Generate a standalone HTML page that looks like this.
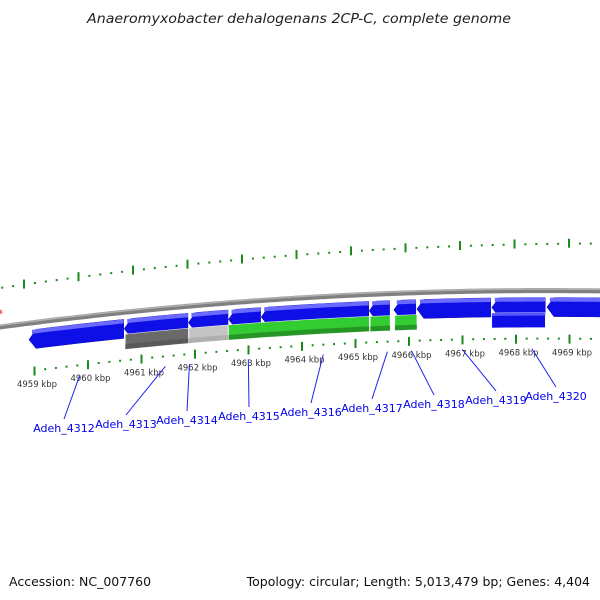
<!DOCTYPE html>
<html><head><meta charset="utf-8"><style>
html,body{margin:0;padding:0;background:#fff;}
svg{display:block;font-family:"DejaVu Sans","Liberation Sans",sans-serif;}
</style></head><body>
<svg id="map" width="600" height="600" viewBox="0 0 600 600">
<text x="299" y="23" text-anchor="middle" font-size="13" font-style="italic" fill="#222" textLength="424" lengthAdjust="spacingAndGlyphs">Anaeromyxobacter dehalogenans 2CP-C, complete genome</text>
<text x="9" y="586" font-size="12.5" fill="#111">Accession: NC_007760</text>
<text x="590" y="586" text-anchor="end" font-size="12.5" fill="#111">Topology: circular; Length: 5,013,479 bp; Genes: 4,404</text>
<text x="-3" y="318" font-size="12" fill="#f00">*</text>
<g id="g"></g>
</svg>
<script>
// data
const kbpLabels=[4959,4960,4961,4962,4963,4964,4965,4966,4967,4968,4969];
const geneNames=["Adeh_4312","Adeh_4313","Adeh_4314","Adeh_4315","Adeh_4316","Adeh_4317","Adeh_4318","Adeh_4319","Adeh_4320"];
const geneLabelKbp=[4959.8,4961.4,4961.85,4962.95,4964.35,4965.55,4966.0,4966.95,4968.25];
const featStart=[4958.85,4960.63,4961.83,4962.58,4963.19,4965.21,4965.67,4966.1,4967.5,4968.53];
const featEnd=[4960.62,4961.82,4962.57,4963.18,4965.2,4965.59,4966.08,4967.48,4968.5,4969.6];
const rnaStart=[4960.65,4961.84,4962.58,4965.23,4965.69,4967.5];
const rnaEnd=[4961.83,4962.57,4965.21,4965.6,4966.1,4968.5];
const rnaKind=["gray","lightgray","green","green","green","blue"];

const K0=4959, PX=53.5, X0=37;
function xOf(k){return X0+(k-K0)*PX;}
function baseY(x){return 327-0.1333*x+0.000122*x*x;}
const NS="http://www.w3.org/2000/svg";
const g=document.getElementById('g');
function mk(t,a){const e=document.createElementNS(NS,t);for(const k in a)e.setAttribute(k,a[k]);g.appendChild(e);return e;}

// backbone
let d="";for(let x=-5;x<=605;x+=5){d+=(x<0?"M":"L")+x+","+baseY(x).toFixed(1)+" ";}
let bb=mk('path',{d:d,stroke:'#808080','stroke-width':5,fill:'none'});


let bb2=mk('path',{d:d,stroke:'#b0b0b0','stroke-width':1.5,fill:'none',transform:'translate(0,-1.5)'});



function band(x1,x2,off,h,arrow){
  const pts=[];const n=8;const a=arrow?Math.min(7,(x2-x1)/3):0;
  for(let i=0;i<=n;i++){const x=x1+a+(x2-x1-a)*i/n;pts.push([x,baseY(x)+off]);}
  for(let i=n;i>=0;i--){const x=x1+a+(x2-x1-a)*i/n;pts.push([x,baseY(x)+off+h]);}
  if(arrow)pts.push([x1,baseY(x1)+off+h/2]);
  return pts.map(p=>p[0].toFixed(1)+","+p[1].toFixed(1)).join(" ");
}
// upper ticks (outer)
for(let k=K0-1;k<=K0+11;k+=0.2){
  const x=24+(k-K0)*54.5; if(x<-2||x>602)continue;
  const y=baseY(x)-39-0.014*x;const major=Math.abs(k-Math.round(k))<0.01;
  let t=mk('line',{x1:x,x2:x,y1:y-(major?5:1),y2:y+(major?4:1),stroke:'#1a8a1a','stroke-width':2});
  
  
}
// lower ticks
for(let k=K0-1;k<=K0+11;k+=0.2){
  const x=xOf(k)+51; if(x<-2||x>602)continue;
  const y=baseY(x)+48;const major=Math.abs(k-Math.round(k))<0.01;
  let t=mk('line',{x1:x,x2:x,y1:y-(major?4:1),y2:y+(major?5:1),stroke:'#1a8a1a','stroke-width':2});
  
  
}
// kbp labels
kbpLabels.forEach(k=>{
  const x=xOf(k);
  let t=mk('text',{x:x,y:baseY(x)+65,'font-size':8.5,'text-anchor':'middle',fill:'#333'});
  t.textContent=k+" kbp";
  
  
});
// gene features (blue, minus strand)
for(let i=0;i<featStart.length;i++){
  const x1=xOf(featStart[i]),x2=xOf(featEnd[i]);
  let p=mk('polygon',{points:band(x1,x2,7,19,true),fill:'#0e0ee6',stroke:'#0808b0','stroke-width':0.5});
  
  
  let h=mk('polygon',{points:band(x1+3,x2,7,4,false),fill:'#6a6aff'});
  
  
}
// rna/cds row
const fills={gray:['#6a6a6a','#555'],lightgray:['#c4c4c4','#aaa'],green:['#33cc33','#228822'],blue:['#0e0ee6','#6a6aff']};
for(let i=0;i<rnaStart.length;i++){
  const x1=xOf(rnaStart[i]),x2=xOf(rnaEnd[i]);const c=fills[rnaKind[i]];
  let p=mk('polygon',{points:band(x1,x2,22,15,false),fill:c[0],stroke:'#fff','stroke-width':0.5});
  
  
  let s=mk('polygon',{points:band(x1,x2,rnaKind[i]=='blue'?22:32,rnaKind[i]=='blue'?3:5,false),fill:c[1],opacity:0.8});
  
  
}
// gene labels
const lblX=[64,126,187,249,311,372,434,496,556];
geneNames.forEach((n,i)=>{
  const gx=xOf(geneLabelKbp[i]);const gy=baseY(gx)+58;
  const lx=lblX[i];const ly=428-(lblX[i]-64)*0.065;
  let l=mk('line',{x1:gx,y1:gy,x2:lx,y2:ly-9,stroke:'#2222ee','stroke-width':1});
  
  
  let t=mk('text',{x:lx,y:ly+4,'font-size':11,'text-anchor':'middle',fill:'#0000ee'});
  t.textContent=n;
  
  
});
</script>
</body></html>
